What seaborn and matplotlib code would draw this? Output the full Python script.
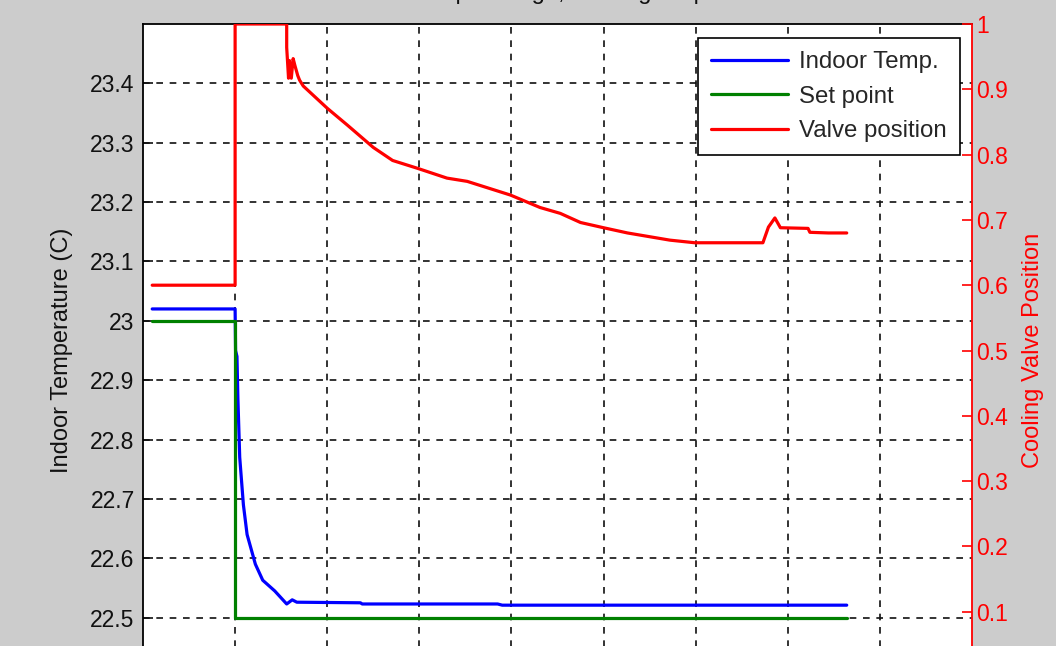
import matplotlib
matplotlib.use("Agg")
import matplotlib.pyplot as plt
import seaborn as sns
import numpy as np
from matplotlib.ticker import FuncFormatter

# ---- data ----
time_temp = [0.10, 1.00, 1.005, 1.02, 1.03, 1.05, 1.09, 1.13, 1.22, 1.30, 1.43,
             1.56, 1.62, 1.67, 2.36, 2.38, 3.85, 3.90, 7.64]
indoor_temp = [23.02, 23.02, 22.95, 22.94, 22.87, 22.77, 22.69, 22.64, 22.59, 22.563,
               22.545, 22.523, 22.530, 22.526, 22.525, 22.523, 22.523, 22.521, 22.521]

time_set = [0.10, 1.00, 1.00, 7.64]
set_point = [23.0, 23.0, 22.5, 22.5]

time_valve = [0.10, 1.00, 1.00, 1.56, 1.56, 1.58, 1.59, 1.61, 1.63, 1.65, 1.68, 1.70,
              1.74, 2.00, 2.22, 2.50, 2.71, 2.98, 3.30, 3.52, 3.99, 4.31, 4.53, 4.75,
              5.00, 5.26, 5.72, 5.99, 6.73, 6.79, 6.86, 6.92, 7.22, 7.24, 7.44, 7.64]
valve_pos = [0.60, 0.60, 1.00, 1.00, 0.964, 0.917, 0.944, 0.917, 0.947, 0.936, 0.921,
             0.914, 0.905, 0.871, 0.845, 0.811, 0.791, 0.779, 0.764, 0.759, 0.738,
             0.719, 0.710, 0.696, 0.688, 0.680, 0.669, 0.665, 0.665, 0.689, 0.703,
             0.688, 0.687, 0.681, 0.680, 0.680]

left_ticks = [22.5, 22.6, 22.7, 22.8, 22.9, 23.0, 23.1, 23.2, 23.3, 23.4]
right_ticks = [0.1, 0.2, 0.3, 0.4, 0.5, 0.6, 0.7, 0.8, 0.9, 1.0]
x_ticks = [1, 2, 3, 4, 5, 6, 7, 8]

title_text = "Step Change, Cooling Setpoint"
series_labels = ["Indoor Temp.", "Set point", "Valve position"]

# ---- style ----
sns.set_style("white")
plt.rcParams['font.family'] = ['Liberation Sans', 'DejaVu Sans']

W, H = 1056, 646
fig = plt.figure(figsize=(W / 100, H / 100), dpi=100, facecolor="#cccccc")

left_px, right_px, top_px, bottom_px = 143, 972, 24, 677
ax = fig.add_axes([left_px / W, (H - bottom_px) / H,
                   (right_px - left_px) / W, (bottom_px - top_px) / H])
ax.set_facecolor("white")
ax2 = ax.twinx()

lw = 2.3
sns.lineplot(x=time_temp, y=indoor_temp, ax=ax, color="#0000ff", lw=lw,
             estimator=None, sort=False, label=series_labels[0], legend=False)
sns.lineplot(x=time_set, y=set_point, ax=ax, color="#008000", lw=lw,
             estimator=None, sort=False, label=series_labels[1], legend=False)
sns.lineplot(x=time_valve, y=valve_pos, ax=ax2, color="#ff0000", lw=lw,
             estimator=None, sort=False, label=series_labels[2], legend=False)

ax.set_xlim(0, 9)
ax.set_ylim(22.4, 23.5)
ax2.set_ylim(0.0, 1.0)

ax.set_xticks(x_ticks)
ax.set_xticklabels([])
ax.set_yticks(left_ticks)
ax2.set_yticks(right_ticks)

fmt = FuncFormatter(lambda v, p: f"{v:g}")
ax.yaxis.set_major_formatter(fmt)
ax2.yaxis.set_major_formatter(fmt)

tick_fs = 16.5
ax.tick_params(axis="y", direction="in", length=7, width=1.2, colors="#111111",
               labelsize=tick_fs, pad=6)
ax.tick_params(axis="x", direction="in", length=7, width=1.2, colors="#111111")
ax2.tick_params(axis="y", direction="in", length=7, width=1.2, colors="#ff0000",
                labelsize=tick_fs, pad=3)

ax.grid(True, color="#111111", linestyle=(0, (4, 4)), linewidth=1.2)

for s in ["left", "top", "bottom"]:
    ax.spines[s].set_color("#000000")
    ax.spines[s].set_linewidth(1.3)
ax.spines["right"].set_visible(False)
for s in ["left", "top", "bottom"]:
    ax2.spines[s].set_visible(False)
ax2.spines["right"].set_color("#ff0000")
ax2.spines["right"].set_linewidth(1.3)

ax.set_ylabel("Indoor Temperature (C)", fontsize=17, color="#111111", labelpad=12)
ax2.set_ylabel("Cooling Valve Position", fontsize=17, color="#ff0000", labelpad=10)

fig.text(0.552, 1 + 1 / H, title_text, ha="center", va="baseline",
         fontsize=17, color="#111111")

h1, l1 = ax.get_legend_handles_labels()
h2, l2 = ax2.get_legend_handles_labels()
leg = ax2.legend(h1 + h2, l1 + l2, loc="upper right",
                 bbox_to_anchor=(960 / W, 1 - 38 / H), bbox_transform=fig.transFigure,
                 borderaxespad=0, fontsize=17.3, handlelength=3.2, handletextpad=0.45,
                 labelspacing=0.52, borderpad=0.55, fancybox=False, framealpha=1,
                 edgecolor="#000000")
leg.get_frame().set_linewidth(1.2)

fig.savefig("out.png", dpi=100, facecolor=fig.get_facecolor())
